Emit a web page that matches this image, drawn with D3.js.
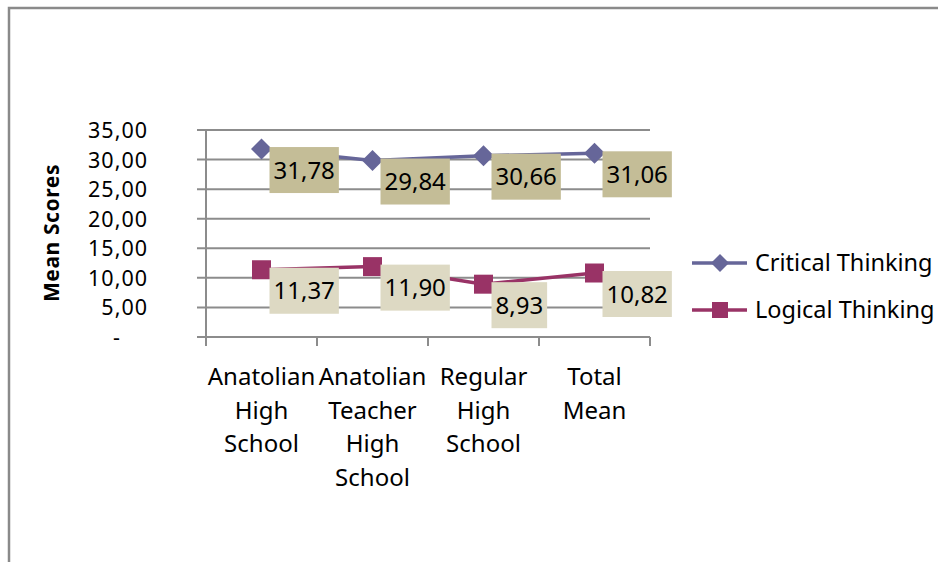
<!DOCTYPE html>
<html>
<head>
<meta charset="utf-8">
<script src="https://cdn.jsdelivr.net/npm/d3@7"></script>
<style>
  html, body { margin: 0; padding: 0; background: #fff; }
  svg { display: block; }
  text { font-family: "Noto Sans", "Open Sans", sans-serif; fill: #000; }
</style>
</head>
<body>
<svg id="chart" width="938" height="562"></svg>
<script>
// School types on the x axis (each split over several lines)
const categories = [
  "Anatolian High School",
  "Anatolian Teacher High School",
  "Regular High School",
  "Total Mean"
];
const categoryLines = [
  ["Anatolian", "High", "School"],
  ["Anatolian", "Teacher", "High", "School"],
  ["Regular", "High", "School"],
  ["Total", "Mean"]
];

// Mean scores per series
const criticalThinking = [31.78, 29.84, 30.66, 31.06];
const logicalThinking  = [11.37, 11.90, 8.93, 10.82];

const seriesNames = ["Critical Thinking", "Logical Thinking"];
const yTicks = [0, 5, 10, 15, 20, 25, 30, 35];

const series = [
  { name: seriesNames[0], values: criticalThinking, color: "#666699", labelFill: "#c4bd97", marker: "diamond" },
  { name: seriesNames[1], values: logicalThinking,  color: "#993366", labelFill: "#ddd9c3", marker: "square" }
];

const svg = d3.select("#chart");
const fmt = d3.formatLocale({ decimal: ",", thousands: ".", grouping: [3], currency: ["", ""] }).format(".2f");

// Outer frame (left and top edges visible)
svg.append("path")
  .attr("d", "M9,562 V8 H938")
  .attr("fill", "none").attr("stroke", "#8a8a8a").attr("stroke-width", 2.5);

const plotLeft = 206, plotRight = 650, plotTop = 130, plotBottom = 337;

const x = d3.scaleBand().domain(categories).range([plotLeft, plotRight]).padding(0);
const y = d3.scaleLinear().domain([0, 35]).range([plotBottom, plotTop]);
const cx = c => x(c) + x.bandwidth() / 2;

// Horizontal gridlines with tick stubs
const grid = svg.append("g");
grid.selectAll("line").data(yTicks).join("line")
  .attr("x1", plotLeft - 9).attr("x2", plotRight)
  .attr("y1", d => y(d)).attr("y2", d => y(d))
  .attr("stroke", "#8c8c8c").attr("stroke-width", 2);

// Y axis line
svg.append("line")
  .attr("x1", plotLeft).attr("x2", plotLeft)
  .attr("y1", plotTop).attr("y2", plotBottom)
  .attr("stroke", "#8c8c8c").attr("stroke-width", 2);

// X axis tick marks at band boundaries
const xBounds = categories.map(c => x(c)).concat([plotRight]);
svg.append("g").selectAll("line").data(xBounds).join("line")
  .attr("x1", d => d).attr("x2", d => d)
  .attr("y1", plotBottom).attr("y2", plotBottom + 9)
  .attr("stroke", "#8c8c8c").attr("stroke-width", 2);

// Y tick labels
svg.append("g").selectAll("text").data(yTicks).join("text")
  .attr("x", d => d === 0 ? 121 : 148)
  .attr("y", d => y(d) + 8)
  .attr("text-anchor", "end")
  .attr("font-size", 21.5)
  .attr("letter-spacing", 1)
  .text(d => d === 0 ? "-" : fmt(d));

// Y axis title
svg.append("text")
  .attr("transform", "translate(59,233) rotate(-90)")
  .attr("text-anchor", "middle")
  .attr("font-size", 21).attr("font-weight", "bold")
  .attr("letter-spacing", 0.6)
  .text("Mean Scores");

// X category labels
const xl = svg.append("g");
categories.forEach((c, i) => {
  categoryLines[i].forEach((line, j) => {
    xl.append("text")
      .attr("x", cx(c)).attr("y", 385 + j * 33.5)
      .attr("text-anchor", "middle")
      .attr("font-size", 24)
      .text(line);
  });
});

const line = d3.line().x((d, i) => cx(categories[i])).y(d => y(d));

function drawMarker(g, type, px, py, size, color) {
  if (type === "diamond") {
    const h = size / 2;
    g.append("path")
      .attr("d", `M${px},${py - h} L${px + h},${py} L${px},${py + h} L${px - h},${py} Z`)
      .attr("fill", color);
  } else {
    g.append("rect")
      .attr("x", px - size / 2).attr("y", py - size / 2)
      .attr("width", size).attr("height", size)
      .attr("fill", color);
  }
}

// Lines and markers
series.forEach(s => {
  svg.append("path").datum(s.values)
    .attr("d", line).attr("fill", "none")
    .attr("stroke", s.color).attr("stroke-width", 3.5);
  const mg = svg.append("g");
  s.values.forEach((v, i) => drawMarker(mg, s.marker, cx(categories[i]), y(v), s.marker === "diamond" ? 21 : 19, s.color));
});

// Data labels in filled boxes
series.forEach(s => {
  const lg = svg.append("g");
  s.values.forEach((v, i) => {
    const px = cx(categories[i]), py = y(v);
    const g = lg.append("g");
    const rect = g.append("rect").attr("fill", s.labelFill);
    const t = g.append("text")
      .attr("x", px + 12).attr("y", py - 2 + 31.5)
      .attr("font-size", 24)
      .text(fmt(v));
    const w = t.node().getComputedTextLength();
    rect.attr("x", px + 8).attr("y", py - 2).attr("width", w + 8).attr("height", 46);
  });
});

// Legend
const legend = svg.append("g");
series.forEach((s, i) => {
  const ly = 263 + i * 47;
  legend.append("line")
    .attr("x1", 692).attr("x2", 747).attr("y1", ly).attr("y2", ly)
    .attr("stroke", s.color).attr("stroke-width", 3.5);
  drawMarker(legend, s.marker, 720, ly, s.marker === "diamond" ? 18 : 16, s.color);
  legend.append("text")
    .attr("x", 755).attr("y", ly + 8)
    .attr("font-size", 23.5)
    .text(s.name);
});
</script>
</body>
</html>
